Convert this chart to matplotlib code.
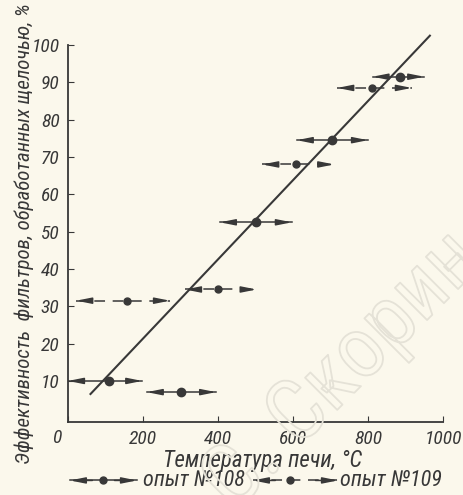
import numpy as np
import matplotlib.pyplot as plt
import matplotlib.patheffects as pe

# опыт №108 (solid)
t108 = [110, 300, 500, 705, 885]
e108 = [10, 7, 52.5, 74.5, 91.5]
lo108 = [0, 210, 405, 610, 812]
hi108 = [198, 395, 597, 800, 950]

# опыт №109 (dashed)
t109 = [157, 400, 608, 810]
e109 = [31.5, 34.5, 68, 88.5]
lo109 = [22, 312, 518, 718]
hi109 = [272, 503, 710, 917]

# fitted line
fit_x = [60, 965]
fit_y = [6.5, 102.5]

ink = '#383838'
bg = '#fbf8ec'
fam = ['Roboto Condensed', 'PT Sans Narrow', 'Fira Sans Condensed', 'Liberation Sans Narrow', 'DejaVu Sans']

plt.rcParams['font.family'] = fam
plt.rcParams['font.style'] = 'italic'

fig = plt.figure(figsize=(4.63, 4.95), dpi=100, facecolor=bg)
ax = fig.add_axes([68/463, 1-422/495, 375/463, 377/495])
ax.set_facecolor('none')

# watermark (hollow letters)
fig.text(0.74, 0.25, 'С. Скорин', fontsize=62, rotation=45, color=(0, 0, 0, 0),
         ha='center', va='center', style='normal', zorder=0,
         path_effects=[pe.withStroke(linewidth=1.3, foreground='#e5e2d7')])

ax.plot(fit_x, fit_y, c=ink, lw=1.5, zorder=3, clip_on=False)

AST = '-|>,head_length=0.9,head_width=0.18'


def arrows(ax, xs, ys, los, his, dashed):
    for x, y, a, b in zip(xs, ys, los, his):
        if dashed:
            ax.plot([a, b], [y, y], c=ink, lw=1.1, dashes=(7, 5))
        else:
            ax.plot([a, b], [y, y], c=ink, lw=1.1)
        for end, d in ((a, 1), (b, -1)):
            ax.annotate('', xy=(end, y), xytext=(end + d*30, y),
                        arrowprops=dict(arrowstyle=AST, color=ink, lw=1.1,
                                        shrinkA=0, shrinkB=0))
        ax.plot(x, y, 'o', c=ink, ms=5 if dashed else 6, zorder=4)


arrows(ax, t108, e108, lo108, hi108, False)
arrows(ax, t109, e109, lo109, hi109, True)

ax.set_xlim(0, 1000)
ax.set_ylim(-1, 100)
ax.spines['top'].set_visible(False)
ax.spines['right'].set_visible(False)
for s in ('left', 'bottom'):
    ax.spines[s].set_color(ink)
    ax.spines[s].set_linewidth(1.3)

ax.set_xticks([0, 200, 400, 600, 800, 1000])
ax.set_xticklabels(['', '200', '400', '600', '800', '1000'])
ax.set_yticks([10, 20, 30, 40, 50, 60, 70, 80, 90, 100])
ax.tick_params(direction='in', length=4, color=ink, labelcolor=ink, labelsize=14, pad=6)
ax.annotate('0', xy=(0, -1), xytext=(-8, -5), textcoords='offset points',
            fontsize=14, color=ink, ha='center', va='top', annotation_clip=False)

ax.set_xlabel('Температура печи, °C', fontsize=16.5, color=ink)
ax.xaxis.set_label_coords(0.52, -0.072)
ax.set_ylabel('Эффективность  фильтров, обработанных щелочью, %', fontsize=15,
              color=ink)
ax.yaxis.set_label_coords(-0.09, 0.5)

# legend
ly = -0.155
for x0, x1, xd, dashed, txt, tx in ((0.005, 0.184, 0.093, False, 'опыт №108', 0.2),
                                    (0.493, 0.72, 0.592, True, 'опыт №109', 0.725)):
    if dashed:
        ax.plot([x0, x1], [ly, ly], c=ink, lw=1.1, dashes=(7, 5),
                transform=ax.transAxes, clip_on=False)
    else:
        ax.plot([x0, x1], [ly, ly], c=ink, lw=1.1, transform=ax.transAxes, clip_on=False)
    for end, d in ((x0, 1), (x1, -1)):
        ax.annotate('', xy=(end, ly), xytext=(end + d*0.06, ly), xycoords='axes fraction',
                    textcoords='axes fraction', annotation_clip=False,
                    arrowprops=dict(arrowstyle=AST, color=ink, lw=1.1,
                                    shrinkA=0, shrinkB=0))
    ax.plot([xd], [ly], 'o', c=ink, ms=5, transform=ax.transAxes, clip_on=False)
    ax.text(tx, ly, txt, fontsize=16, color=ink, va='center', ha='left',
            transform=ax.transAxes)

fig.savefig('out.png', dpi=100, facecolor=bg)
